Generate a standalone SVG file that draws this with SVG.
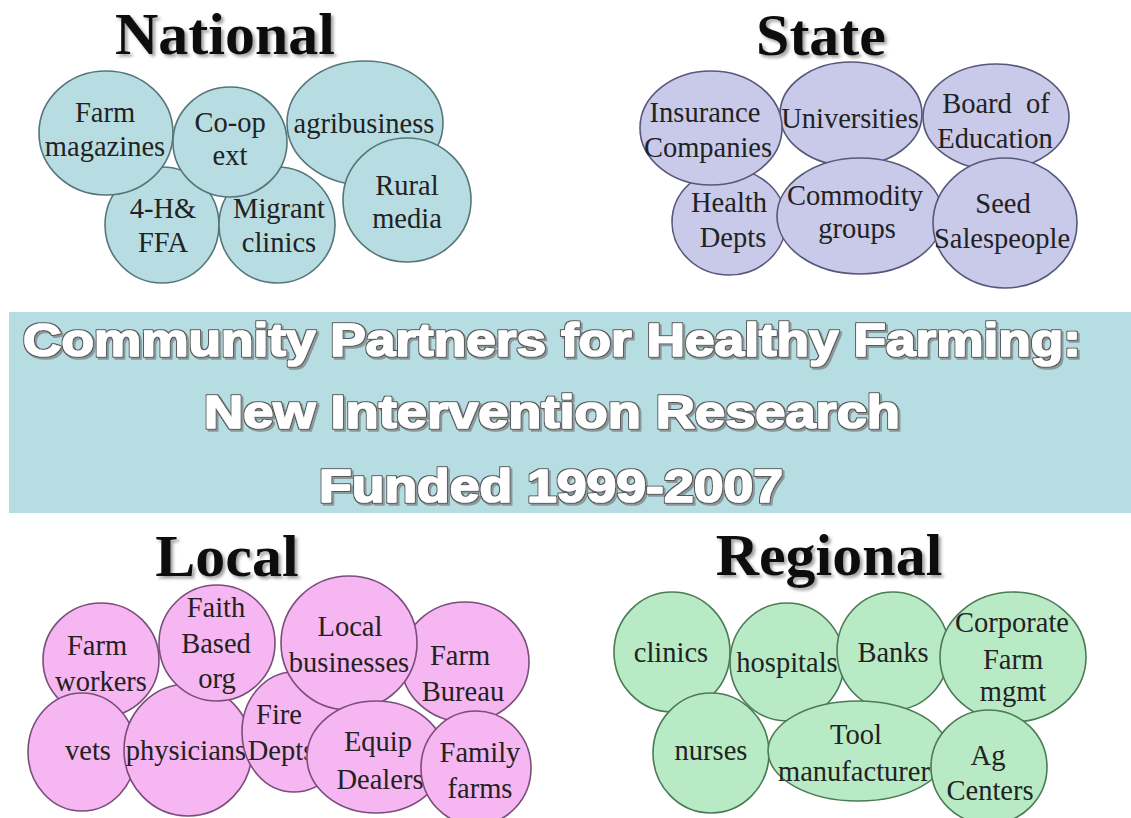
<svg xmlns="http://www.w3.org/2000/svg" width="1131" height="818" viewBox="0 0 1131 818">
  <defs>
    <filter id="titleShadow" x="-10%" y="-20%" width="130%" height="160%">
      <feDropShadow dx="2.5" dy="2.5" stdDeviation="1.6" flood-color="#777" flood-opacity="0.7"/>
    </filter>
    <!-- outlined white lettering with a small grey drop shadow -->
    <filter id="bannerFx" x="-5%" y="-30%" width="110%" height="170%">
      <feMorphology in="SourceAlpha" operator="dilate" radius="1.3" result="fat"/>
      <feFlood flood-color="#595959"/>
      <feComposite in2="fat" operator="in" result="outline"/>
      <feOffset in="fat" dx="1.6" dy="1.6" result="off"/>
      <feFlood flood-color="#8b999b"/>
      <feComposite in2="off" operator="in" result="shadow"/>
      <feMerge>
        <feMergeNode in="shadow"/>
        <feMergeNode in="outline"/>
        <feMergeNode in="SourceGraphic"/>
      </feMerge>
    </filter>
  </defs>
  <style>
    .title { font-family: "Liberation Serif", "Times New Roman", "DejaVu Serif", serif; font-weight: bold; font-size: 60px; fill: #0d0d0d; text-anchor: middle; filter: url(#titleShadow); }
    .lbl { font-family: "Liberation Serif", "Times New Roman", "DejaVu Serif", serif; font-weight: normal; font-size: 28.5px; fill: #222; text-anchor: middle; }
    .nat ellipse { fill: #b7dde3; stroke: #557579; stroke-width: 1.6; }
    .sta ellipse { fill: #c9c9ea; stroke: #57577c; stroke-width: 1.6; }
    .loc ellipse { fill: #f5b6f1; stroke: #7a4d7a; stroke-width: 1.6; }
    .reg ellipse { fill: #b8eac6; stroke: #4b7b55; stroke-width: 1.6; }
    .banner-text { font-family: "Liberation Sans", Arial, sans-serif; font-weight: bold; font-size: 46px; fill: #ffffff; stroke: #ffffff; stroke-width: 1.6; stroke-linejoin: round; text-anchor: middle; filter: url(#bannerFx); }
  </style>

  <rect x="0" y="0" width="1131" height="818" fill="#ffffff"/>

  <!-- section headings -->
  <text class="title" x="225" y="54">National</text>
  <text class="title" x="821" y="55">State</text>
  <text class="title" x="227" y="576">Local</text>
  <text class="title" x="829" y="575">Regional</text>

  <!-- central banner -->
  <g id="banner">
    <rect x="9" y="312" width="1122" height="201" fill="#b6dde2"/>
    <text class="banner-text" x="552" y="356" textLength="1058" lengthAdjust="spacingAndGlyphs">Community Partners for Healthy Farming:</text>
    <text class="banner-text" x="552" y="428" textLength="696" lengthAdjust="spacingAndGlyphs">New Intervention Research</text>
    <text class="banner-text" x="551" y="502" textLength="464" lengthAdjust="spacingAndGlyphs">Funded 1999-2007</text>
  </g>

  <!-- no connectors: partners are shown as overlapping bubbles -->
  <g id="connectors"/>

  <!-- National partners -->
  <g class="nat">
    <g id="n-4h">
      <ellipse cx="162" cy="225" rx="57" ry="58"/>
      <text class="lbl" x="163" y="218">4-H&amp;</text>
      <text class="lbl" x="163" y="252">FFA</text>
    </g>
    <g id="n-migrant">
      <ellipse cx="277" cy="225" rx="58" ry="58"/>
      <text class="lbl" x="279" y="218">Migrant</text>
      <text class="lbl" x="279" y="252">clinics</text>
    </g>
    <g id="n-farm-magazines">
      <ellipse cx="106" cy="133" rx="67" ry="62"/>
      <text class="lbl" x="105" y="122">Farm</text>
      <text class="lbl" x="105" y="156">magazines</text>
    </g>
    <g id="n-coop">
      <ellipse cx="230" cy="142" rx="57" ry="55"/>
      <text class="lbl" x="230" y="132">Co-op</text>
      <text class="lbl" x="230" y="165">ext</text>
    </g>
    <g id="n-agribusiness">
      <ellipse cx="365" cy="123" rx="78" ry="62"/>
      <text class="lbl" x="364" y="133">agribusiness</text>
    </g>
    <g id="n-rural-media">
      <ellipse cx="407" cy="200" rx="64" ry="62"/>
      <text class="lbl" x="407" y="195">Rural</text>
      <text class="lbl" x="407" y="228">media</text>
    </g>
  </g>

  <!-- State partners -->
  <g class="sta">
    <g id="s-health">
      <ellipse cx="729" cy="222" rx="57" ry="53"/>
      <text class="lbl" x="729" y="212">Health</text>
      <text class="lbl" x="733" y="247">Depts</text>
    </g>
    <g id="s-universities">
      <ellipse cx="851" cy="114" rx="71" ry="52"/>
      <text class="lbl" x="850" y="128">Universities</text>
    </g>
    <g id="s-board">
      <ellipse cx="996" cy="117" rx="73" ry="53"/>
      <text class="lbl" x="996" y="113" xml:space="preserve">Board  of</text>
      <text class="lbl" x="995" y="148">Education</text>
    </g>
    <g id="s-insurance">
      <ellipse cx="711" cy="128" rx="71" ry="57"/>
      <text class="lbl" x="705" y="122">Insurance</text>
      <text class="lbl" x="708" y="157">Companies</text>
    </g>
    <g id="s-commodity">
      <ellipse cx="860" cy="216" rx="83" ry="58"/>
      <text class="lbl" x="855" y="205">Commodity</text>
      <text class="lbl" x="857" y="238">groups</text>
    </g>
    <g id="s-seed">
      <ellipse cx="1005" cy="223" rx="72" ry="65"/>
      <text class="lbl" x="1003" y="213">Seed</text>
      <text class="lbl" x="1002" y="248">Salespeople</text>
    </g>
  </g>

  <!-- Local partners -->
  <g class="loc">
    <g id="l-farm-workers">
      <ellipse cx="101" cy="660" rx="58" ry="57"/>
      <text class="lbl" x="97" y="655">Farm</text>
      <text class="lbl" x="101" y="691">workers</text>
    </g>
    <g id="l-vets">
      <ellipse cx="82" cy="752" rx="54" ry="59"/>
      <text class="lbl" x="88" y="760">vets</text>
    </g>
    <g id="l-physicians">
      <ellipse cx="188" cy="750" rx="64" ry="66"/>
      <text class="lbl" x="186" y="760">physicians</text>
    </g>
    <g id="l-fire">
      <ellipse cx="294" cy="732" rx="52" ry="60"/>
      <text class="lbl" x="279" y="724">Fire</text>
      <text class="lbl" x="281" y="760">Depts</text>
    </g>
    <g id="l-faith">
      <ellipse cx="217" cy="643" rx="58" ry="58"/>
      <text class="lbl" x="216" y="617">Faith</text>
      <text class="lbl" x="216" y="653">Based</text>
      <text class="lbl" x="217" y="688">org</text>
    </g>
    <g id="l-farm-bureau">
      <ellipse cx="465" cy="662" rx="64" ry="60"/>
      <text class="lbl" x="460" y="665">Farm</text>
      <text class="lbl" x="463" y="701">Bureau</text>
    </g>
    <g id="l-local-businesses">
      <ellipse cx="349" cy="643" rx="68" ry="67"/>
      <text class="lbl" x="350" y="636">Local</text>
      <text class="lbl" x="349" y="672">businesses</text>
    </g>
    <g id="l-equip">
      <ellipse cx="376" cy="757" rx="69" ry="56"/>
      <text class="lbl" x="378" y="751">Equip</text>
      <text class="lbl" x="380" y="789">Dealers</text>
    </g>
    <g id="l-family-farms">
      <ellipse cx="476" cy="768" rx="55" ry="57"/>
      <text class="lbl" x="480" y="762">Family</text>
      <text class="lbl" x="480" y="798">farms</text>
    </g>
  </g>

  <!-- Regional partners -->
  <g class="reg">
    <g id="r-clinics">
      <ellipse cx="672" cy="652" rx="58" ry="60"/>
      <text class="lbl" x="671" y="662">clinics</text>
    </g>
    <g id="r-nurses">
      <ellipse cx="711" cy="753" rx="58" ry="60"/>
      <text class="lbl" x="711" y="760">nurses</text>
    </g>
    <g id="r-hospitals">
      <ellipse cx="787" cy="662" rx="57" ry="59"/>
      <text class="lbl" x="787" y="672">hospitals</text>
    </g>
    <g id="r-banks">
      <ellipse cx="893" cy="651" rx="56" ry="59"/>
      <text class="lbl" x="893" y="662">Banks</text>
    </g>
    <g id="r-corporate">
      <ellipse cx="1013" cy="657" rx="73" ry="65"/>
      <text class="lbl" x="1012" y="632">Corporate</text>
      <text class="lbl" x="1013" y="669">Farm</text>
      <text class="lbl" x="1013" y="701">mgmt</text>
    </g>
    <g id="r-tool">
      <ellipse cx="858" cy="751" rx="90" ry="50"/>
      <text class="lbl" x="856" y="744">Tool</text>
      <text class="lbl" x="854" y="781">manufacturer</text>
    </g>
    <g id="r-ag-centers">
      <ellipse cx="989" cy="767" rx="58" ry="57"/>
      <text class="lbl" x="988" y="765">Ag</text>
      <text class="lbl" x="990" y="800">Centers</text>
    </g>
  </g>
</svg>
